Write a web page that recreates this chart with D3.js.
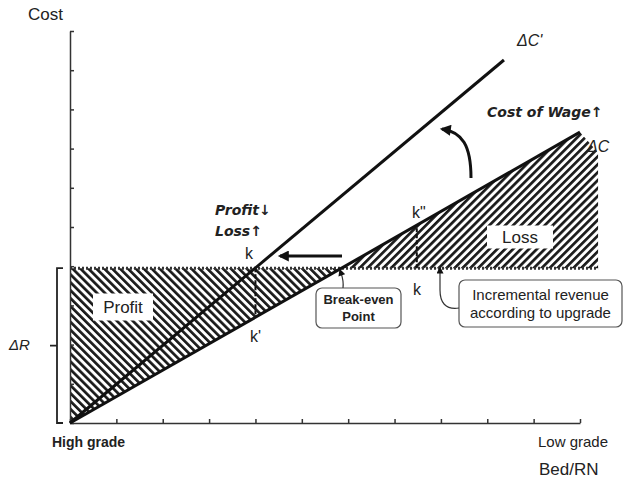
<!DOCTYPE html>
<html>
<head>
<meta charset="utf-8">
<script src="https://cdn.jsdelivr.net/npm/d3@7"></script>
<style>
  body { margin: 0; background: #fff; }
  text { font-family: "Liberation Sans", "DejaVu Sans", sans-serif; fill: #222; }
</style>
</head>
<body>
<div id="chart-area"></div>
<script>
// Data (in grade / cost units)
const xTicks = d3.range(0, 12);          // 11 grade steps
const yTicks = d3.range(0, 11);          // 10 cost steps
const xLabels = ['High grade', 'Low grade'];
const lineNames = ['ΔC', "ΔC'"];
const lineEndX = [11, 9.36];
const lineEndY = [7.42, 9.26];
const revenue = 3.95;                    // ΔR level
const revenueEnd = 11.39;
const lossCorner = 6.9;
const kGrades = [4.0, 7.48];             // k and k'' positions

const width = 624, height = 478;

const svg = d3.select('#chart-area')
    .append('svg')
        .attr('width', width)
        .attr('height', height);

// Scales
const x = d3.scaleLinear().domain([0, 11]).range([70, 580]);
const y = d3.scaleLinear().domain([0, 10]).range([423, 31]);

const costAt = (i, g) => lineEndY[i] / lineEndX[i] * g;
const breakEven = revenue / (lineEndY[0] / lineEndX[0]);

// Hatch patterns
const defs = svg.append('defs');
[['hatchBack', -45], ['hatchFwd', 45]].forEach(([id, angle]) => {
    defs.append('pattern')
        .attr('id', id)
        .attr('patternUnits', 'userSpaceOnUse')
        .attr('width', 5.6).attr('height', 8)
        .attr('patternTransform', 'rotate(' + angle + ')')
        .append('rect')
            .attr('width', 2.7).attr('height', 8).attr('fill', '#1a1a1a');
});

function arrowMarker(id, w, h) {
    defs.append('marker')
        .attr('id', id)
        .attr('viewBox', '0 0 10 10')
        .attr('refX', 8).attr('refY', 5)
        .attr('markerUnits', 'userSpaceOnUse')
        .attr('markerWidth', w).attr('markerHeight', h)
        .attr('orient', 'auto')
        .append('path')
            .attr('d', 'M0,0 L10,5 L0,10 Z')
            .attr('fill', '#111');
}
arrowMarker('bigArrow', 13, 11);
arrowMarker('smallArrow', 8, 7);

// Profit area
svg.append('path')
    .attr('d', d3.line()([[x(0), y(0)], [x(0), y(revenue)], [x(breakEven), y(revenue)]]) + 'Z')
    .attr('fill', 'url(#hatchBack)');

// Loss area
svg.append('path')
    .attr('d', d3.line()([
        [x(breakEven), y(revenue)], [x(lineEndX[0]), y(lineEndY[0])],
        [x(revenueEnd), y(lossCorner)], [x(revenueEnd), y(revenue)]]) + 'Z')
    .attr('fill', 'url(#hatchFwd)');

// Axes
svg.append('g')
    .attr('transform', 'translate(0,' + y(0) + ')')
    .call(d3.axisBottom(x).tickValues(xTicks).tickSize(-4).tickSizeOuter(0).tickFormat(''));
svg.append('g')
    .attr('transform', 'translate(' + x(0) + ',0)')
    .call(d3.axisLeft(y).tickValues(yTicks).tickSize(-4).tickSizeOuter(0).tickFormat(''));
svg.selectAll('.domain, .tick line')
    .attr('stroke', '#333').attr('stroke-width', 1.5);

// Revenue (dotted)
svg.append('line')
    .attr('x1', x(0)).attr('x2', x(revenueEnd))
    .attr('y1', y(revenue)).attr('y2', y(revenue))
    .attr('stroke', '#333').attr('stroke-width', 3)
    .attr('stroke-dasharray', '2,2');

// Cost lines
lineNames.forEach((name, i) => {
    svg.append('line')
        .attr('x1', x(0)).attr('y1', y(0))
        .attr('x2', x(lineEndX[i])).attr('y2', y(lineEndY[i]))
        .attr('stroke', '#111').attr('stroke-width', 3);
});

// k' and k'' verticals
kGrades.forEach((g) => {
    svg.append('line')
        .attr('x1', x(g)).attr('x2', x(g))
        .attr('y1', y(revenue)).attr('y2', y(costAt(0, g)))
        .attr('stroke', '#111').attr('stroke-width', 2)
        .attr('stroke-dasharray', '4,2');
});

// White label boxes over hatch
function boxLabel(cx, cy, w, h, t) {
    svg.append('rect')
        .attr('x', cx - w / 2).attr('y', cy - h / 2)
        .attr('width', w).attr('height', h).attr('fill', '#fff');
    svg.append('text')
        .attr('x', cx).attr('y', cy + 6)
        .attr('text-anchor', 'middle')
        .attr('font-size', '17px')
        .text(t);
}
boxLabel(123, 307, 60, 27, 'Profit');
boxLabel(520, 237, 66, 23, 'Loss');

// Arrows
svg.append('line')
    .attr('x1', 342).attr('y1', 256).attr('x2', 280).attr('y2', 256)
    .attr('stroke', '#111').attr('stroke-width', 3)
    .attr('marker-end', 'url(#bigArrow)');
svg.append('path')
    .attr('d', 'M471,178 C471,145 462,132 442,129')
    .attr('fill', 'none').attr('stroke', '#111').attr('stroke-width', 3)
    .attr('marker-end', 'url(#bigArrow)');

// Callout boxes
function callout(x0, y0, w, h, lines, size, weight, gap) {
    svg.append('rect')
        .attr('x', x0).attr('y', y0).attr('width', w).attr('height', h)
        .attr('rx', 6).attr('fill', '#fff')
        .attr('stroke', '#555').attr('stroke-width', 1.2);
    lines.forEach((t, i) => {
        svg.append('text')
            .attr('x', x0 + w / 2)
            .attr('y', y0 + h / 2 + (i - (lines.length - 1) / 2) * gap + size * 0.36)
            .attr('text-anchor', 'middle')
            .attr('font-size', size + 'px')
            .attr('font-weight', weight)
            .text(t);
    });
}
callout(316, 288, 85, 40, ['Break-even', 'Point'], 13, 'bold', 16.5);
callout(459, 280, 163, 47, ['Incremental revenue', 'according to upgrade'], 15, 'normal', 18);

svg.append('path')
    .attr('d', 'M343,288 C344,280 342,276 340,270')
    .attr('fill', 'none').attr('stroke', '#333').attr('stroke-width', 1.2)
    .attr('marker-end', 'url(#smallArrow)');
svg.append('path')
    .attr('d', 'M459,308 C445,310 440,302 440,290 L440,268')
    .attr('fill', 'none').attr('stroke', '#333').attr('stroke-width', 1.2)
    .attr('marker-end', 'url(#smallArrow)');

// ΔR bracket
svg.append('path')
    .attr('d', 'M63,' + y(revenue) + ' H57 V' + y(0) + ' H63 M57,' + ((y(revenue) + y(0)) / 2) + ' H50')
    .attr('fill', 'none').attr('stroke', '#222').attr('stroke-width', 1.8);

// Text labels
const txt = (tx, ty, s, size, opts = {}) => svg.append('text')
    .attr('x', tx).attr('y', ty)
    .attr('font-size', size + 'px')
    .attr('font-style', opts.italic ? 'italic' : 'normal')
    .attr('font-weight', opts.bold ? 'bold' : 'normal')
    .attr('text-anchor', opts.anchor || 'start')
    .style('font-family', opts.family || null)
    .text(s);

txt(28, 20, 'Cost', 17);
txt(52, 447, xLabels[0], 14, { bold: true });
txt(538, 447, xLabels[1], 15);
txt(539, 475, 'Bed/RN', 17);
txt(9, 350, 'ΔR', 15, { italic: true });
txt(517, 46, lineNames[1], 16, { italic: true });
txt(587, 152, lineNames[0], 16, { italic: true });
txt(487, 117, 'Cost of Wage↑', 14, { italic: true, bold: true, family: 'DejaVu Sans' });
txt(215, 215, 'Profit↓', 14, { italic: true, bold: true, family: 'DejaVu Sans' });
txt(215, 236, 'Loss↑', 14, { italic: true, bold: true, family: 'DejaVu Sans' });
txt(245, 259, 'k', 16);
txt(250, 342, "k'", 16);
txt(412, 218, 'k"', 16);
txt(413, 295, 'k', 16);
</script>
</body>
</html>
